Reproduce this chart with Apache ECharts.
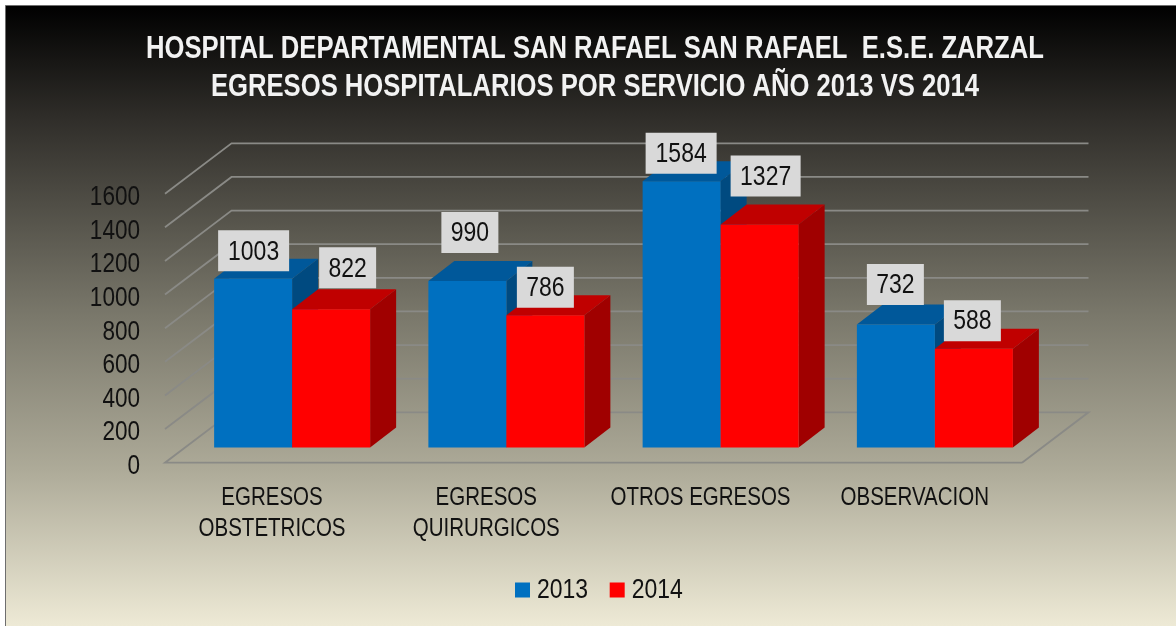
<!DOCTYPE html>
<html>
<head>
<meta charset="utf-8">
<style>html,body{margin:0;padding:0;background:#fff;overflow:hidden}#c{width:1176px;height:626px}</style>
<script src="https://cdn.jsdelivr.net/npm/echarts@6/dist/echarts.min.js"></script>
</head>
<body>
<div id="c"></div>
<script>
const categories = ['EGRESOS\nOBSTETRICOS', 'EGRESOS\nQUIRURGICOS', 'OTROS EGRESOS', 'OBSERVACION'];
const values2013 = [1003, 990, 1584, 732];
const values2014 = [822, 786, 1327, 588];
const yTicks = [0, 200, 400, 600, 800, 1000, 1200, 1400, 1600];
const titleLines = ['HOSPITAL DEPARTAMENTAL SAN RAFAEL SAN RAFAEL  E.S.E. ZARZAL', 'EGRESOS HOSPITALARIOS POR SERVICIO AÑO 2013 VS 2014'];

/* Layout of the fake 3D look, in pixels */
const FONT = '"Liberation Sans",sans-serif';
const NARROW_SCALE = 0.82; /* Arial Narrow look: no narrow face is installed */
const Y_LABEL_SHIFT = 2.5;
const BAR_W = 78, DEPTH_X = 26, DEPTH_Y = 20;
const FRONT_DX = -20, FRONT_DY = 15.2, BACK_DX = 46.5, BACK_DY = -35.2;
const BOX_H = 41;
/* hand-placed data label boxes: [dx from bar centre, dy from bar top, box width] */
const boxes2013 = [[0.5, -28, 71], [2.5, -48.5, 57], [-0.5, -28, 71], [-0.5, -40, 57]];
const boxes2014 = [[16.5, -41.5, 57], [0, -28, 57], [6, -48.5, 70], [-1.5, -28, 57]];

const wallItem = (params, api) => {
  const cs = params.coordSys;
  const v = api.value(0);
  const y = api.coord([0, v])[1];
  const L = cs.x, R = cs.x + cs.width;
  const pts = [[L + FRONT_DX, y + FRONT_DY], [L + BACK_DX, y + BACK_DY], [R + BACK_DX, y + BACK_DY]];
  if (v === 0) { pts.unshift([R + FRONT_DX, y + FRONT_DY]); pts.push([R + FRONT_DX, y + FRONT_DY]); }
  return { type: 'polyline', shape: { points: pts }, style: { fill: 'none', stroke: '#8a8a86', lineWidth: 1.8 }, silent: true };
};

const barItem = (side, front, top, right) => (params, api) => {
  const i = api.value(0);
  const t = api.coord([i, api.value(1)]);
  const b = api.coord([i, 0]);
  const x0 = side === 0 ? t[0] - BAR_W : t[0];
  const x1 = x0 + BAR_W;
  const y0 = t[1], y1 = b[1];
  const poly = (points, fill) => ({ type: 'polygon', shape: { points }, style: { fill }, silent: true });
  return { type: 'group', children: [
    poly([[x1, y0], [x1 + DEPTH_X, y0 - DEPTH_Y], [x1 + DEPTH_X, y1 - DEPTH_Y], [x1, y1]], right),
    poly([[x0, y0], [x0 + DEPTH_X, y0 - DEPTH_Y], [x1 + DEPTH_X, y0 - DEPTH_Y], [x1, y0]], top),
    poly([[x0, y0], [x1, y0], [x1, y1], [x0, y1]], front)
  ] };
};

const labelItem = (side, boxes) => (params, api) => {
  const i = api.value(0), v = api.value(1);
  const t = api.coord([i, v]);
  const cx = t[0] + (side === 0 ? -BAR_W / 2 : BAR_W / 2) + boxes[i][0];
  const cy = t[1] + boxes[i][1];
  const w = boxes[i][2];
  return { type: 'group', children: [
    { type: 'rect', shape: { x: cx - w / 2, y: cy - BOX_H / 2, width: w, height: BOX_H }, style: { fill: '#d9d9d9' }, silent: true },
    { type: 'text', style: { x: cx, y: cy + 1, text: String(v), align: 'center', verticalAlign: 'middle', fill: '#111', font: '28px ' + FONT }, silent: true }
  ] };
};

const pairs = a => a.map((v, i) => [i, v]);

const option = {
  animation: false,
  graphic: [{
    type: 'rect', z: -10, silent: true,
    shape: { x: 5.5, y: 5.5, width: 1171, height: 621 },
    style: {
      stroke: '#6e6e6e', lineWidth: 1,
      fill: { type: 'linear', x: 0, y: 0, x2: 0, y2: 1, colorStops: [
        { offset: 0, color: '#000000' },
        { offset: 0.18, color: '#2f2d29' },
        { offset: 0.5, color: '#7a786b' },
        { offset: 0.75, color: '#aeab99' },
        { offset: 1, color: '#eeead6' }
      ] }
    }
  }],
  title: {
    text: titleLines.join('\n'), left: 590, top: 25, textAlign: 'center',
    textStyle: { color: '#f2f2f2', fontFamily: FONT, fontWeight: 'bold', fontSize: 31.25, lineHeight: 38 }
  },
  legend: {
    data: ['2013', '2014'], left: 510, top: 571, icon: 'rect', itemWidth: 15, itemHeight: 15, itemGap: 10,
    textStyle: { color: '#111', fontFamily: FONT, fontSize: 28, padding: [0, 0, 0, 2.4] }
  },
  grid: { left: 185, width: 857, top: 178.5, height: 269 },
  xAxis: {
    type: 'category', data: categories,
    axisLine: { show: false }, axisTick: { show: false },
    axisLabel: { color: '#111', fontFamily: FONT, fontSize: 25, lineHeight: 31, margin: 35, padding: [0, 49, 0, 0], interval: 0 }
  },
  yAxis: {
    type: 'value', min: 0, max: 1600, interval: 200,
    axisLine: { show: false }, axisTick: { show: false }, splitLine: { show: false },
    axisLabel: { color: '#111', fontFamily: FONT, fontSize: 27.5, lineHeight: 33, verticalAlign: 'top', margin: 45, formatter: v => String(v) }
  },
  series: [
    { type: 'custom', name: 'walls', z: 1, renderItem: wallItem, data: yTicks.map(v => [v]), encode: { y: 0 }, clip: false },
    { type: 'custom', name: '2013', z: 2, itemStyle: { color: '#0070c0' }, renderItem: barItem(0, '#0070c0', '#00589a', '#004a80'), data: pairs(values2013), encode: { x: 0, y: 1 }, clip: false },
    { type: 'custom', name: '2014', z: 3, itemStyle: { color: '#ff0000' }, renderItem: barItem(1, '#ff0000', '#c00000', '#a00000'), data: pairs(values2014), encode: { x: 0, y: 1 }, clip: false },
    { type: 'custom', name: 'labels2013', z: 4, renderItem: labelItem(0, boxes2013), data: pairs(values2013), encode: { x: 0, y: 1 }, clip: false },
    { type: 'custom', name: 'labels2014', z: 5, renderItem: labelItem(1, boxes2014), data: pairs(values2014), encode: { x: 0, y: 1 }, clip: false }
  ]
};
const chart = echarts.init(document.getElementById('c'), null, { renderer: 'canvas' });
chart.setOption(option);

/* Squeeze every text horizontally about its own anchor */
const zr = chart.getZr();
zr.storage.traverse(el => {
  if (el.type === 'text' && el.style) {
    el.originX = el.style.x || 0;
    el.originY = 0;
    el.scaleX = NARROW_SCALE;
    if (el.style.align === 'right') el.y += Y_LABEL_SHIFT;
    el.markRedraw();
  }
});
zr.refreshImmediately();
</script>
</body>
</html>
